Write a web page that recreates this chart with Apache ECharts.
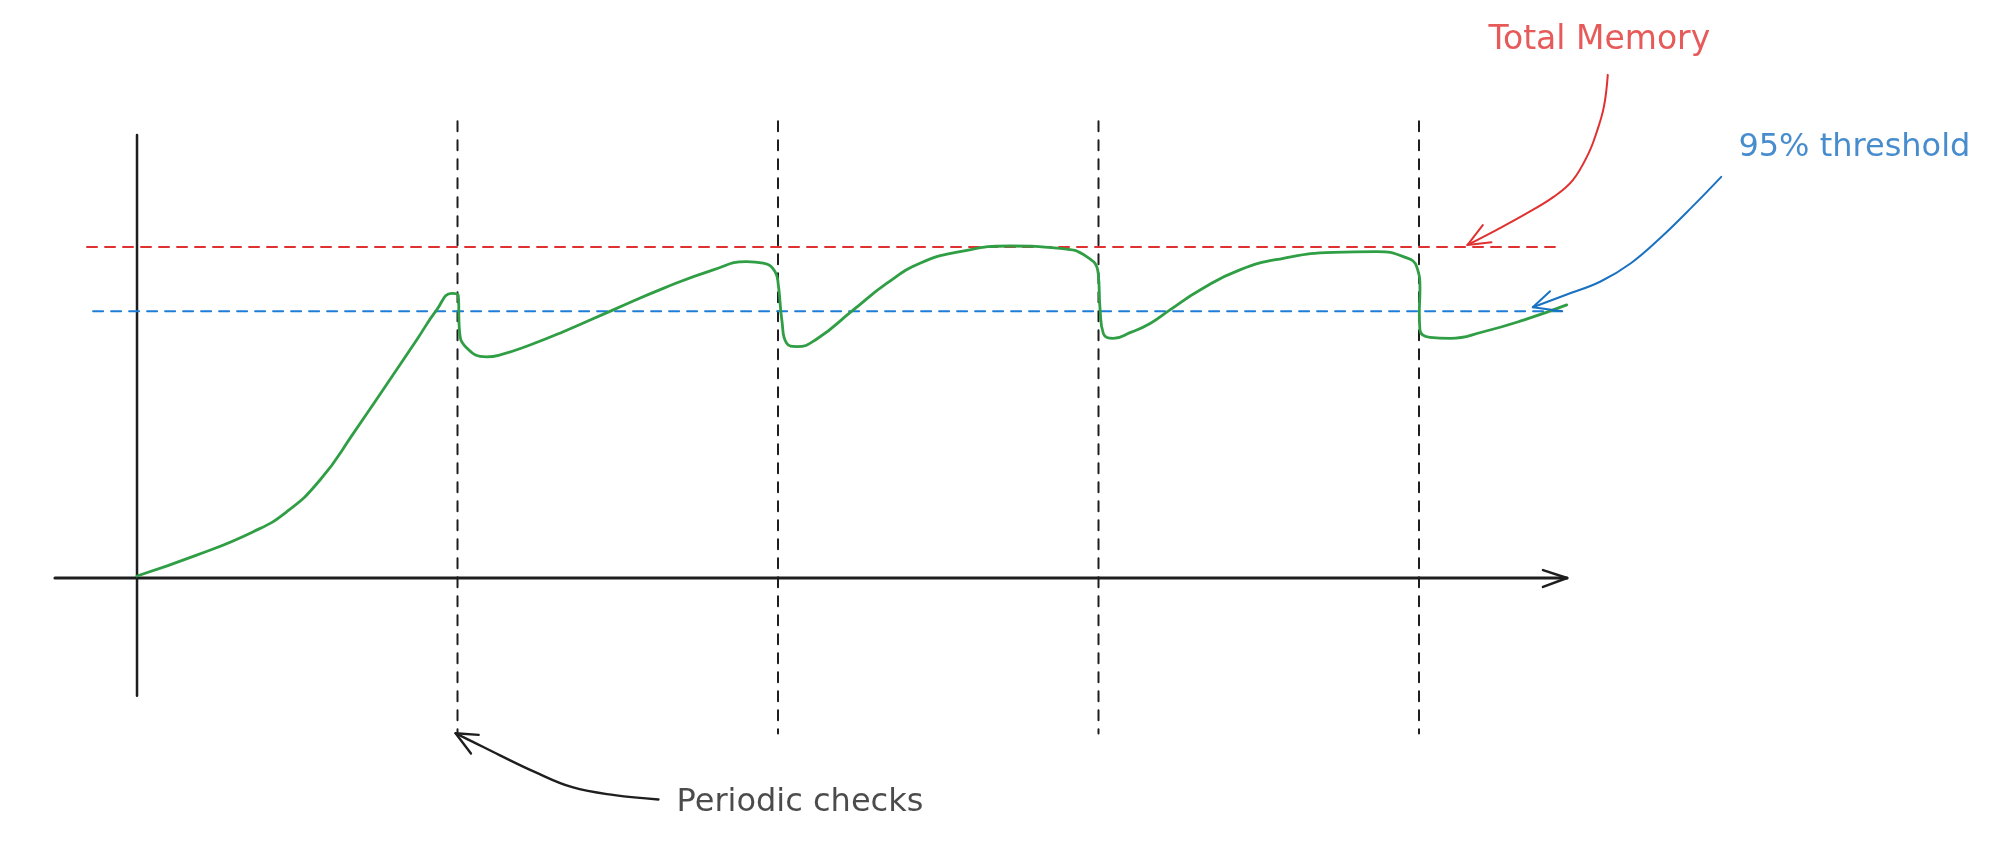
<!DOCTYPE html>
<html>
<head>
<meta charset="utf-8">
<title>Periodic memory checks</title>
<script src="https://cdn.jsdelivr.net/npm/echarts@6/dist/echarts.min.js"></script>
<style>
    html, body { margin: 0; padding: 0; background: #ffffff; }
    #myChart { width: 1999px; height: 845px; }
</style>
</head>
<body>
<div id="myChart"></div>
<script>
/////////////////////////
// data (x: one unit per check interval, y: total memory = 100)

var checkTimes = [1, 2, 3, 4];
var totalMemory = 100;
var thresholdLevel = 80.6;

var memoryUsage = [
    // ramp up to the first check
    [0, 0.6], [0.186, 6.9], [0.363, 14.0], [0.467, 20.0], [0.571, 29.6],
    [0.675, 43.7], [0.873, 72.0], [0.935, 81.0], [0.982, 86.0], [1.002, 85.5],
    // freed, grows again
    [1.006, 74.9], [1.029, 69.5], [1.091, 66.8], [1.133, 67.4], [1.226, 70.4],
    [1.330, 74.4], [1.486, 81.0], [1.642, 87.5], [1.798, 93.1], [1.902, 95.6],
    [1.954, 95.1], [1.991, 92.5], [2.001, 88.5],
    [2.012, 77.9], [2.027, 70.9], [2.058, 69.9], [2.121, 72.2], [2.235, 81.0],
    [2.339, 89.0], [2.443, 95.1], [2.568, 98.6], [2.724, 100.3], [2.880, 99.6],
    [2.963, 97.1], [2.999, 92.1], [3.005, 81.0],
    [3.015, 73.9], [3.046, 72.4], [3.100, 74.2], [3.161, 76.9], [3.223, 81.0],
    [3.317, 87.0], [3.441, 93.1], [3.577, 96.6], [3.733, 98.4], [3.868, 98.6],
    [3.951, 97.1], [3.993, 94.0], [4.003, 87.0], [4.001, 80.0],
    [4.003, 74.9], [4.034, 72.7], [4.097, 72.4], [4.201, 74.4], [4.326, 77.9],
    [4.461, 82.5]
];

// annotation arrows (shaft, then the two barbs meeting at the tip)
var totalArrow = [
    [4.589, 152.0], [4.577, 142.4], [4.553, 134.3], [4.529, 128.3], [4.480, 120.2],
    [4.421, 115.2], [4.337, 110.2], [4.241, 105.1], [4.151, 100.6]
];
var totalArrowHead = [[4.199, 106.6], [4.151, 100.6], [4.226, 101.4]];

var thresholdArrow = [
    [4.943, 121.2], [4.853, 112.2], [4.757, 103.1], [4.661, 95.1], [4.565, 89.5],
    [4.457, 85.5], [4.355, 81.8]
];
var thresholdArrowHead = [[4.409, 86.6], [4.355, 81.8], [4.447, 80.6]];

var checksArrow = [
    [1.627, -66.9], [1.490, -65.6], [1.358, -63.2], [1.239, -58.5], [1.131, -53.5],
    [1.048, -49.5], [0.994, -46.9]
];
var checksArrowHead = [[1.066, -47.4], [0.994, -46.9], [1.042, -53.0]];

var labels = [
    { name: 'Total Memory', value: [4.215, 162.5], color: '#e03131', size: 33 },
    { name: '95% threshold', value: [4.995, 129.9], color: '#1971c2', size: 32 },
    { name: 'Periodic checks', value: [1.682, -68.0], color: '#1e1e1e', size: 32 }
];

/////////////////////////

var myChart;

function getMyChart() {
    if (myChart != undefined) {
        return myChart;
    }
    myChart = echarts.init(document.getElementById('myChart'));
    return myChart;
}

function lineSeries(data, color, width, dash) {
    return {
        type: 'line',
        data: data,
        silent: true,
        showSymbol: false,
        symbol: 'none',
        clip: false,
        lineStyle: { color: color, width: width, type: dash || 'solid', cap: 'round', join: 'round' }
    };
}

function makeOptions() {
    var series = [];

    // axes drawn by hand: x with an open arrow head, y plain
    series.push(lineSeries([[-0.256, 0], [4.462, 0]], '#1e1e1e', 3));
    series.push(lineSeries([[4.387, 2.4], [4.462, 0], [4.387, -2.7]], '#1e1e1e', 2.5));
    series.push(lineSeries([[0, 133.8], [0, -35.6]], '#1e1e1e', 2.5));

    // check times
    for (var i = 0; i < checkTimes.length; i++) {
        series.push(lineSeries([[checkTimes[i], 138], [checkTimes[i], -47]], '#1e1e1e', 2, [10, 9]));
    }

    // total memory and threshold levels
    series.push(lineSeries([[-0.156, totalMemory], [4.424, totalMemory]], '#e03131', 2, [10, 8]));
    series.push(lineSeries([[-0.137, thresholdLevel], [4.449, thresholdLevel]], '#1c7ed6', 2, [10, 8]));

    // memory usage
    var usage = lineSeries(memoryUsage, '#2f9e44', 2.8);
    usage.smooth = 0.5;
    series.push(usage);

    // annotation arrows
    var a1 = lineSeries(totalArrow, '#e03131', 2);
    a1.smooth = 0.4;
    series.push(a1);
    series.push(lineSeries(totalArrowHead, '#e03131', 2));
    var a2 = lineSeries(thresholdArrow, '#1971c2', 2);
    a2.smooth = 0.4;
    series.push(a2);
    series.push(lineSeries(thresholdArrowHead, '#1971c2', 2));
    var a3 = lineSeries(checksArrow, '#1e1e1e', 2.4);
    a3.smooth = 0.4;
    series.push(a3);
    series.push(lineSeries(checksArrowHead, '#1e1e1e', 2.4));

    // text labels
    for (var j = 0; j < labels.length; j++) {
        series.push({
            type: 'scatter',
            silent: true,
            clip: false,
            symbolSize: 1,
            itemStyle: { color: 'rgba(0,0,0,0)' },
            data: [{ name: labels[j].name, value: labels[j].value }],
            label: {
                show: true,
                position: 'right',
                distance: 0,
                formatter: '{b}',
                color: labels[j].color,
                fontSize: labels[j].size,
                fontFamily: 'DejaVu Sans'
            }
        });
    }

    var option = {
        animation: false,
        backgroundColor: '#ffffff',
        grid: { left: 0, right: 0, top: 0, bottom: 0 },
        xAxis: { type: 'value', min: -0.4275, max: 5.8097, show: false },
        yAxis: { type: 'value', min: -80.66, max: 174.62, show: false },
        series: series
    };
    return option;
}

getMyChart().setOption(makeOptions());
</script>
</body>
</html>
